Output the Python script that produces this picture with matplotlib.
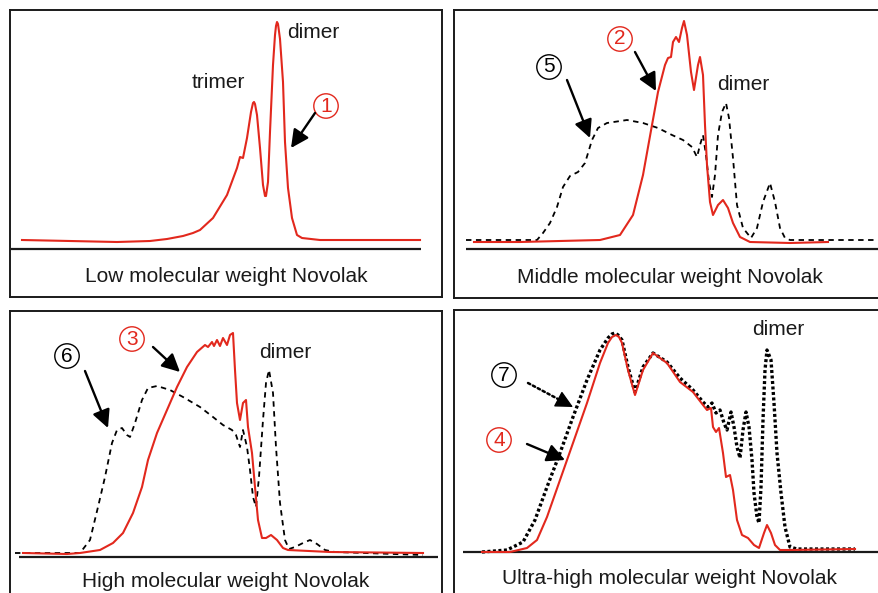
import matplotlib
matplotlib.use("Agg")
import matplotlib.pyplot as plt

plt.rcParams['font.family'] = ['Liberation Sans', 'Noto Sans CJK JP', 'DejaVu Sans']

RED = '#e2281d'

# --- chromatogram traces (elution position, detector signal) ---
# 1: low molecular weight novolak
low_x = [12, 60, 107, 140, 157, 173, 183, 190, 203, 217, 227, 230, 233, 237, 241, 243, 244, 245,
         247, 250, 253, 255, 256, 258, 260, 263, 265, 266, 267, 268, 270, 273, 275, 278, 282,
         287, 292, 310, 410]
low_y = [9, 8, 7, 8, 10, 13, 16, 19, 31, 54, 81, 92, 91, 111, 137, 146, 147, 145,
         134, 101, 64, 53, 53, 67, 117, 184, 214, 223, 227, 225, 210, 167, 107, 61, 31,
         14, 11, 9, 9]

# 2 (red) and 5 (dashed): middle molecular weight
mid2_x = [20, 66, 106, 146, 166, 179, 189, 198, 204, 211, 214, 217, 219, 222, 225, 228, 230, 233,
          237, 240, 244, 246, 249, 251, 253, 256, 259, 264, 269, 274, 279, 286, 296, 336, 374]
mid2_y = [7, 7, 8, 9, 14, 34, 74, 124, 157, 184, 191, 192, 207, 212, 207, 221, 228, 214,
          177, 159, 184, 192, 174, 124, 84, 47, 34, 44, 49, 41, 26, 12, 7, 6, 7]
mid5_x = [12, 83, 89, 96, 103, 109, 116, 124, 131, 138, 144, 153, 173, 189, 204, 218, 229, 238,
          243, 246, 249, 252, 255, 258, 261, 264, 268, 272, 275, 279, 283, 289, 297, 303, 309,
          316, 321, 326, 331, 336, 432]
mid5_y = [9, 9, 16, 26, 42, 62, 73, 77, 86, 109, 121, 126, 129, 126, 121, 114, 109, 102,
          92, 104, 114, 94, 67, 52, 74, 114, 137, 146, 131, 91, 44, 21, 11, 21, 47,
          66, 47, 21, 11, 9, 9]

# 3 (red) and 6 (dashed): high molecular weight
high3_x = [13, 57, 70, 90, 103, 113, 123, 132, 138, 147, 157, 167, 177, 187, 195, 198, 202, 204,
           207, 210, 213, 217, 220, 223, 225, 227, 230, 233, 236, 238, 242, 245, 248, 252, 256,
           261, 267, 273, 278, 320, 413]
high3_y = [4, 3, 4, 7, 14, 24, 44, 70, 97, 124, 147, 170, 190, 205, 212, 210, 215, 211,
           217, 211, 219, 212, 222, 224, 187, 154, 137, 154, 157, 130, 104, 70, 37, 19, 19,
           22, 17, 9, 7, 5, 4]
high6_x = [5, 70, 80, 88, 95, 102, 107, 112, 117, 120, 125, 132, 138, 147, 160, 173, 190, 203,
           213, 222, 226, 230, 233, 237, 240, 243, 246, 249, 253, 256, 259, 263, 266, 270, 275,
           279, 285, 293, 300, 307, 315, 325, 413]
high6_y = [4, 4, 17, 50, 80, 114, 127, 129, 122, 120, 134, 157, 169, 171, 167, 160, 150, 140,
           132, 127, 122, 110, 127, 110, 87, 60, 50, 80, 137, 174, 187, 164, 110, 54, 17,
           8, 10, 14, 17, 13, 7, 5, 2]

# 4 (red) and 7 (dotted): ultra-high molecular weight
uhigh4_x = [28, 56, 73, 83, 93, 106, 119, 133, 146, 154, 158, 162, 165, 168, 174, 181, 189, 199,
            213, 226, 239, 249, 253, 257, 259, 262, 265, 269, 272, 276, 279, 283, 288, 294, 300,
            305, 310, 313, 317, 321, 326, 336, 401]
uhigh4_y = [0, 0, 4, 12, 35, 72, 109, 149, 189, 209, 215, 217, 215, 209, 182, 157, 182, 199,
            189, 170, 160, 147, 142, 144, 125, 120, 124, 99, 75, 77, 62, 32, 17, 14, 7,
            4, 19, 27, 19, 7, 2, 2, 3]
uhigh7_x = [28, 53, 69, 81, 93, 106, 119, 133, 146, 154, 158, 161, 164, 168, 174, 181, 189, 199,
            213, 226, 239, 249, 254, 258, 262, 266, 270, 273, 277, 280, 283, 286, 289, 292, 295,
            298, 300, 303, 305, 307, 309, 311, 313, 317, 320, 323, 327, 331, 336, 343, 401]
uhigh7_y = [0, 2, 10, 32, 65, 99, 135, 172, 202, 214, 218, 219, 217, 212, 185, 160, 185, 199,
            190, 174, 162, 150, 145, 149, 139, 142, 129, 122, 140, 125, 105, 94, 122, 140, 125,
            92, 59, 35, 29, 65, 132, 182, 202, 192, 149, 99, 59, 25, 5, 3, 3]

W, H = 879, 593
fig = plt.figure(figsize=(W / 100, H / 100), dpi=100)


def panel(box, base, line_span, label):
    # box = (left, top, right, bottom) in figure pixels, base = pixel row of the baseline
    left, top, right, bottom = box
    ax = fig.add_axes([left / W, 1 - bottom / H, (right - left) / W, (bottom - top) / H])
    ax.set_xlim(0, right - left)
    ax.set_ylim(-(bottom - base), base - top)
    ax.set_xticks([])
    ax.set_yticks([])
    for s in ax.spines.values():
        s.set_linewidth(1.4)
        s.set_color('#1a1a1a')
    ax.plot(line_span, [0, 0], color='#1a1a1a', lw=1.6, solid_capstyle='butt')
    ax.text((right - left) / 2, -(bottom - base) / 2 - 4, label, ha='center', va='center',
            fontsize=15, color='#1a1a1a')
    return ax


def circled(ax, x, y, s, color):
    # digit inside a thin circle (like ①, ② ...)
    ax.text(x, y, s, ha='center', va='center', fontsize=15, color=color,
            bbox=dict(boxstyle='circle,pad=0.13', fc='none', ec=color, lw=1.0))


def arrow(ax, tail, head, ls='-'):
    if ls == '-':
        ax.annotate('', xy=head, xytext=tail,
                    arrowprops=dict(arrowstyle='-|>', color='black', lw=1.7,
                                    mutation_scale=27, shrinkA=0, shrinkB=0))
    else:
        # dotted shaft with a solid head
        mid = (head[0] - 0.3 * (head[0] - tail[0]), head[1] - 0.3 * (head[1] - tail[1]))
        ax.annotate('', xy=mid, xytext=tail,
                    arrowprops=dict(arrowstyle='-', color='black', lw=1.8, ls=(0, (1, 1.2)),
                                    shrinkA=0, shrinkB=0))
        ax.annotate('', xy=head, xytext=mid,
                    arrowprops=dict(arrowstyle='-|>', color='black', lw=1.0,
                                    mutation_scale=27, shrinkA=0, shrinkB=0))


dashed = (0, (3, 2.5))
dotted = (0, (0.9, 0.75))

# panel 1
ax1 = panel((10, 10, 442, 297), 249, [1, 411], 'Low molecular weight Novolak')
ax1.plot(low_x, low_y, color=RED, lw=1.5)
ax1.text(208, 166, 'trimer', ha='center', va='center', fontsize=15, color='#1a1a1a')
ax1.text(303, 217, 'dimer', ha='center', va='center', fontsize=15, color='#1a1a1a')
circled(ax1, 316, 143, '1', RED)
arrow(ax1, (305, 136), (281, 101))

# panel 2
ax2 = panel((454, 10, 886, 298), 249, [12, 432], 'Middle molecular weight Novolak')
ax2.plot(mid5_x, mid5_y, color='black', lw=1.3, ls=dashed)
ax2.plot(mid2_x, mid2_y, color=RED, lw=1.5)
ax2.text(289, 164, 'dimer', ha='center', va='center', fontsize=15, color='#1a1a1a')
circled(ax2, 166, 210, '2', RED)
circled(ax2, 95, 182, '5', 'black')
arrow(ax2, (181, 197), (202, 158))
arrow(ax2, (113, 169), (136, 111))

# panel 3
ax3 = panel((10, 311, 442, 598), 557, [9, 428], 'High molecular weight Novolak')
ax3.plot(high6_x, high6_y, color='black', lw=1.3, ls=dashed)
ax3.plot(high3_x, high3_y, color=RED, lw=1.5)
ax3.text(275, 205, 'dimer', ha='center', va='center', fontsize=15, color='#1a1a1a')
circled(ax3, 122, 218, '3', RED)
circled(ax3, 57, 201, '6', 'black')
arrow(ax3, (143, 210), (170, 185))
arrow(ax3, (75, 186), (98, 129))

# panel 4
ax4 = panel((454, 310, 886, 597), 552, [9, 432], 'Ultra-high molecular weight Novolak')
ax4.plot(uhigh7_x, uhigh7_y, color='black', lw=2.4, ls=dotted)
ax4.plot(uhigh4_x, uhigh4_y, color=RED, lw=1.5)
ax4.text(324, 223, 'dimer', ha='center', va='center', fontsize=15, color='#1a1a1a')
circled(ax4, 50, 177, '7', 'black')
circled(ax4, 45, 112, '4', RED)
arrow(ax4, (74, 169), (119, 145), ls=':')
arrow(ax4, (73, 108), (111, 92))

fig.savefig('out.png', dpi=100)
